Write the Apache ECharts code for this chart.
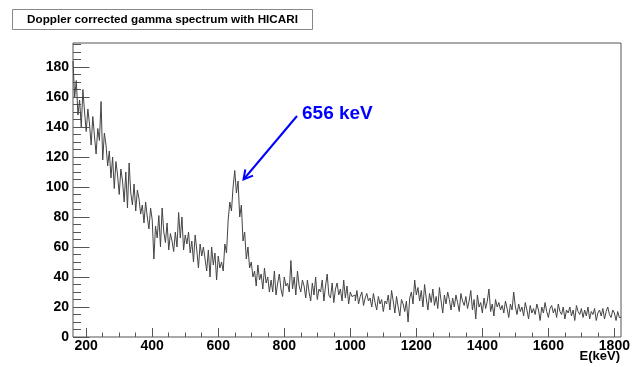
<!DOCTYPE html>
<html>
<head>
<meta charset="utf-8">
<script src="https://cdn.jsdelivr.net/npm/echarts@6/dist/echarts.min.js"></script>
<style>html,body{margin:0;padding:0;background:#fff}#c{width:641px;height:367px}</style>
</head>
<body>
<div id="c"></div>
<script>
// Histogram binning (keV)
const binStart = 160;
const binWidth = 5;
// Counts per 5 keV bin, 160 .. 1820 keV
const counts = [
  184,160,171,148,158,140,165,150,137,152,
  142,128,147,134,122,139,131,157,118,136,
  128,114,124,106,120,99,117,108,95,112,
  104,90,110,86,116,96,88,102,84,98,
  92,82,88,76,90,80,72,86,78,52,
  74,66,81,60,86,70,63,76,58,69,
  64,57,70,60,83,66,80,58,68,62,
  70,56,64,50,68,58,46,62,54,60,
  52,44,58,40,60,48,56,38,54,46,
  50,44,62,56,78,90,84,100,111,96,
  104,80,88,64,70,52,60,46,50,40,
  44,34,48,38,42,32,46,36,40,30,
  38,30,44,28,36,42,32,27,40,34,
  36,30,51,32,40,28,44,34,30,38,
  34,26,38,30,24,36,28,40,25,32,
  30,38,24,34,42,28,26,36,23,32,
  36,28,32,24,38,26,34,22,30,27,
  28,24,31,22,27,30,21,26,29,24,
  26,20,29,23,18,27,22,25,17,24,
  22,28,18,31,24,16,27,20,14,25,
  22,17,24,10,26,30,22,38,28,33,
  24,31,20,35,26,18,29,23,32,21,
  27,19,33,24,16,28,22,30,25,18,
  26,20,28,23,17,29,24,21,27,19,
  24,31,18,25,12,28,20,23,16,26,
  19,24,32,17,22,14,25,20,23,18,
  21,16,24,19,13,22,18,30,20,15,
  22,17,20,14,23,18,12,21,16,19,
  15,22,18,11,20,16,23,17,13,19,
  21,16,19,13,22,17,15,20,12,18,
  16,20,14,18,11,21,17,15,19,13,
  18,14,20,12,17,15,19,11,16,18,
  14,19,12,17,20,15,13,18,16,11,
  17,13
];
const xMin = 160, xMax = 1820;
const yMin = 0, yMax = 196;
const xMajorTicks = [200,400,600,800,1000,1200,1400,1600,1800];
const xMinorTicks = [200,250,300,350,400,450,500,550,600,650,700,750,800,850,900,950,1000,1050,1100,1150,1200,1250,1300,1350,1400,1450,1500,1550,1600,1650,1700,1750,1800];
const yMajorTicks = [0,20,40,60,80,100,120,140,160,180];
const yMinorTicks = [0,5,10,15,20,25,30,35,40,45,50,55,60,65,70,75,80,85,90,95,100,105,110,115,120,125,130,135,140,145,150,155,160,165,170,175,180,185,190,195];
const titleText = 'Doppler corrected gamma spectrum with HICARI';
const peakLabel = '656 keV';
const xAxisTitle = 'E(keV)';

// step outline data: bin low edges + closing edge
const histData = counts.map((v, i) => [binStart + i * binWidth, v]);
histData.push([binStart + counts.length * binWidth, counts[counts.length - 1]]);

const FONT = '"Liberation Sans", Arial, Helvetica, sans-serif';
const axisCol = '#555';
const plain = v => String(v);

const chart = echarts.init(document.getElementById('c'), null, {renderer: 'canvas'});
chart.setOption({
  animation: false,
  backgroundColor: '#fff',
  grid: {left: 73, top: 43, width: 548, height: 294, show: true, borderColor: axisCol, borderWidth: 1, backgroundColor: 'transparent'},
  xAxis: [
    {type: 'value', min: xMin, max: xMax, position: 'bottom',
     axisLine: {show: false}, splitLine: {show: false},
     axisTick: {show: true, inside: true, length: 9, customValues: xMajorTicks, lineStyle: {color: axisCol}},
     axisLabel: {show: true, customValues: xMajorTicks, formatter: plain, margin: 2, color: '#000', fontWeight: 'bold', fontSize: 14, fontFamily: FONT}},
    {type: 'value', min: xMin, max: xMax, position: 'bottom',
     axisLine: {show: false}, splitLine: {show: false},
     axisTick: {show: true, inside: true, length: 4.5, customValues: xMinorTicks, lineStyle: {color: axisCol}},
     axisLabel: {show: false}}
  ],
  yAxis: [
    {type: 'value', min: yMin, max: yMax, position: 'left',
     axisLine: {show: false}, splitLine: {show: false},
     axisTick: {show: true, inside: true, length: 16.5, customValues: yMajorTicks, lineStyle: {color: axisCol}},
     axisLabel: {show: true, customValues: yMajorTicks, formatter: plain, margin: 4, color: '#000', fontWeight: 'bold', fontSize: 14, fontFamily: FONT}},
    {type: 'value', min: yMin, max: yMax, position: 'left',
     axisLine: {show: false}, splitLine: {show: false},
     axisTick: {show: true, inside: true, length: 8, customValues: yMinorTicks, lineStyle: {color: axisCol}},
     axisLabel: {show: false}}
  ],
  series: [{
    type: 'line', step: 'end', xAxisIndex: 0, yAxisIndex: 0,
    data: histData, symbol: 'none', clip: true,
    lineStyle: {color: '#444', width: 1}
  }],
  graphic: [
    {type: 'rect', shape: {x: 12.5, y: 9.5, width: 300, height: 20}, style: {fill: '#fff', stroke: '#888', lineWidth: 1}},
    {type: 'text', x: 162.5, y: 19.5, style: {text: titleText, align: 'center', verticalAlign: 'middle', font: 'bold 11.7px ' + FONT, fill: '#000'}},
    {type: 'text', x: 302, y: 114, style: {text: peakLabel, align: 'left', verticalAlign: 'middle', font: 'bold 19px ' + FONT, fill: '#0000ff'}},
    {type: 'line', shape: {x1: 297, y1: 116, x2: 243.5, y2: 179.5}, style: {stroke: '#0000ff', lineWidth: 2}},
    {type: 'polyline', shape: {points: [[245.3, 169.5], [243.5, 179.5], [253, 175.6]]}, style: {stroke: '#0000ff', lineWidth: 2, fill: null}},
    {type: 'text', x: 620, y: 356, style: {text: xAxisTitle, align: 'right', verticalAlign: 'middle', font: 'bold 13px ' + FONT, fill: '#000'}}
  ]
});
</script>
</body>
</html>
